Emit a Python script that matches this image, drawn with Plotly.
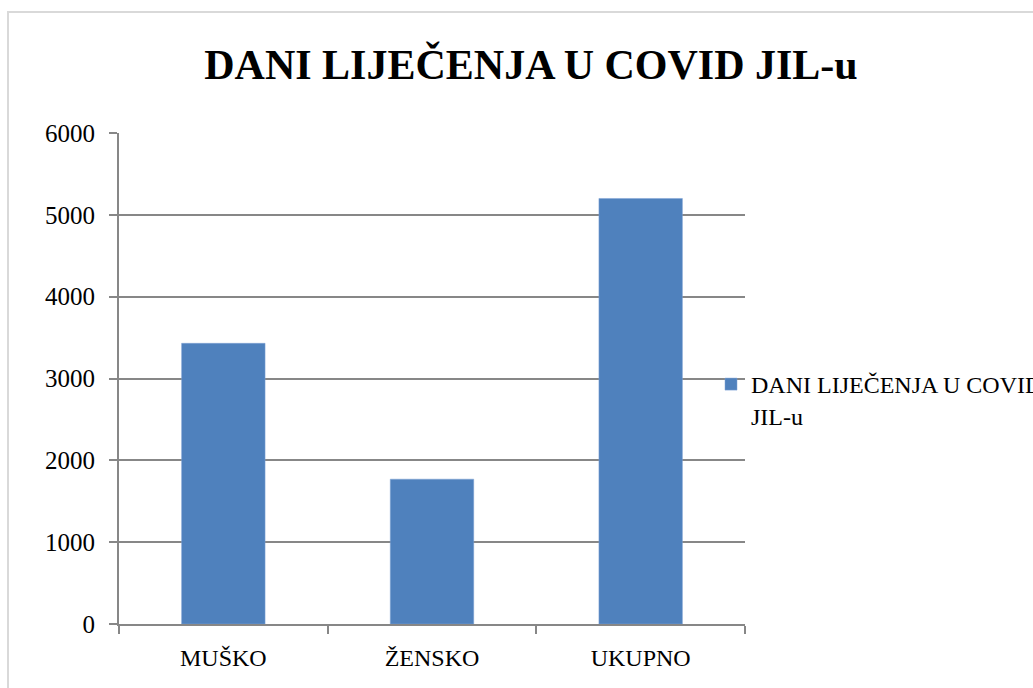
import plotly.graph_objects as go

categories = ["MUŠKO", "ŽENSKO", "UKUPNO"]
values = [3430, 1770, 5200]
series_name = "DANI LIJEČENJA U COVID<br>JIL-u"
title_text = "DANI LIJEČENJA U COVID JIL-u"
y_ticks = [0, 1000, 2000, 3000, 4000, 5000, 6000]

W, H = 1033, 688
ml, mr, mt, mb = 119, 288, 133, 64
pw, ph = W - ml - mr, H - mt - mb

font_family = "Liberation Serif, DejaVu Serif, serif"
grid_col = "#878787"

fig = go.Figure()
fig.add_trace(go.Bar(
    x=categories, y=values, name=series_name,
    marker=dict(color="#4F81BD", line=dict(color="#7FA3D4", width=0.5)),
    showlegend=True,
))

def py(pix):
    return 1 - (pix - mt) / ph

def px(pix):
    return (pix - ml) / pw

fig.update_layout(
    width=W, height=H,
    margin=dict(l=ml, r=mr, t=mt, b=mb, autoexpand=False),
    paper_bgcolor="white", plot_bgcolor="white",
    bargap=0.6,
    font=dict(family=font_family, size=24, color="black"),
    title=dict(text="<b>" + title_text + "</b>", x=px(531), xref="paper", xanchor="center",
               y=1 - 64 / H, yanchor="middle",
               font=dict(family=font_family, size=42, color="black")),
    legend=dict(x=px(711), xanchor="left", y=py(400), yanchor="middle", valign="top",
                font=dict(size=24), bgcolor="rgba(0,0,0,0)", itemwidth=30,
                tracegroupgap=0),
    shapes=[dict(type="rect", xref="paper", yref="paper",
                 x0=px(8), x1=px(W + 10),
                 y0=py(H + 10), y1=py(12),
                 line=dict(color="#D9D9D9", width=2), fillcolor="rgba(0,0,0,0)", layer="below")],
)

fig.update_xaxes(
    showline=True, linecolor=grid_col, linewidth=2,
    ticks="outside", ticklen=8, tickcolor=grid_col, tickwidth=2,
    tickmode="array", tickvals=[-0.5, 0.5, 1.5, 2.5], ticktext=["", "", "", ""],
    showgrid=False, range=[-0.5, 2.5],
)
# category labels through a second tick set
fig.update_layout(xaxis2=dict(overlaying="x", matches="x", side="bottom", showline=False,
                              ticks="", tickmode="array", tickvals=[0, 1, 2], ticktext=categories,
                              showgrid=False, range=[-0.5, 2.5], ticklabelstandoff=17,
                              tickfont=dict(family=font_family, size=24)))
fig.add_trace(go.Scatter(x=categories, y=[None, None, None], xaxis="x2", showlegend=False,
                         hoverinfo="skip"))

fig.update_yaxes(
    range=[0, 6000], tickvals=y_ticks, showgrid=True, gridcolor=grid_col, gridwidth=2,
    showline=True, linecolor=grid_col, linewidth=2,
    ticks="outside", ticklen=8, tickcolor=grid_col, tickwidth=2,
    zeroline=False, ticklabelstandoff=9, tickfont=dict(family=font_family, size=25),
)

fig.write_html("out.html", config={"displayModeBar": False},
               post_script="document.body.style.margin='0px';")
